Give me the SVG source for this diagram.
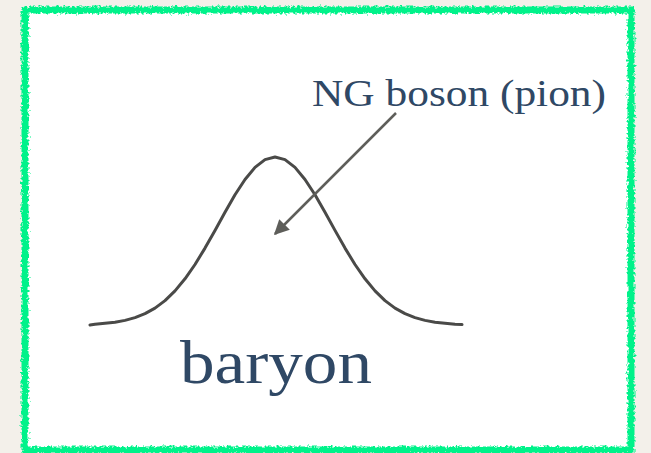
<svg xmlns="http://www.w3.org/2000/svg" width="651" height="453" viewBox="0 0 651 453">
  <style>
    .lbl { font-family: "Liberation Serif", "DejaVu Serif", serif; fill: #2f4865; }
    .curve { fill: none; stroke: #4a4a48; stroke-width: 3; stroke-linejoin: round; stroke-linecap: round; }
    .conn { fill: none; stroke: #5e5e5a; stroke-width: 2.5; }
  </style>
  <defs>
    <filter id="rough" x="-5%" y="-5%" width="110%" height="110%">
      <feTurbulence type="fractalNoise" baseFrequency="0.4" numOctaves="2" seed="3"/>
      <feDisplacementMap in="SourceGraphic" scale="6" xChannelSelector="R" yChannelSelector="G"/>
    </filter>
    <marker id="arrow" viewBox="0 0 10 10" refX="9" refY="5" markerWidth="6" markerHeight="6" markerUnits="strokeWidth" orient="auto">
      <path d="M0,0 L10,5 L0,10 z" fill="#5e5e5a"/>
    </marker>
  </defs>
  <rect x="0" y="0" width="651" height="453" fill="#f3f0ea"/>
  <g id="frame">
    <rect x="25" y="10" width="606" height="440" fill="#ffffff"/>
    <rect x="25" y="10" width="606" height="440" fill="none" stroke="#00f28a" stroke-width="7" filter="url(#rough)"/>
  </g>
  <g id="baryon-curve">
    <path class="curve" d="M90,325 L95,324.3 L105,323.3 L115,322.2 L125,320.35 L135,317.6 L145,313.6 L155,308.1 L165,300.6 L175,290.9 L185,278.8 L195,264.5 L205,248.1 L215,230.4 L225,212.2 L235,194.8 L245,179.5 L255,167.4 L265,159.65 L275,157 L285,159.65 L295,167.4 L305,179.5 L315,194.8 L325,212.2 L335,230.4 L345,248.1 L355,264.5 L365,278.8 L375,290.9 L385,300.6 L395,308.1 L405,313.6 L415,317.6 L425,320.35 L435,322.2 L445,323.3 L455,324.3 L462,324.6"/>
  </g>
  <g id="baryon-label">
    <text class="lbl" x="180" y="383" font-size="62" textLength="192" lengthAdjust="spacingAndGlyphs">baryon</text>
  </g>
  <g id="pion-label">
    <text class="lbl" x="312" y="106" font-size="37" textLength="294" lengthAdjust="spacingAndGlyphs">NG boson (pion)</text>
  </g>
  <g id="connectors">
    <line class="conn" x1="396" y1="113" x2="275" y2="234" marker-end="url(#arrow)"/>
  </g>
</svg>
